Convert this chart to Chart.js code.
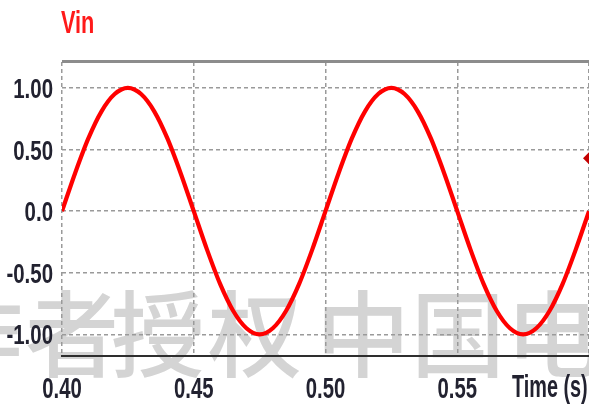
<!DOCTYPE html>
<html>
<head>
<meta charset="utf-8">
<title>Vin</title>
<script src="https://cdn.jsdelivr.net/npm/chart.js@4/dist/chart.umd.min.js"></script>
<style>
  html, body { margin: 0; padding: 0; background: #ffffff; overflow: hidden; }
  canvas { display: block; }
</style>
</head>
<body>
<canvas id="chart" width="589" height="405"></canvas>
<script>
// Sampled input voltage, every 5 ms
const timeS = [
  0.400, 0.405, 0.410, 0.415, 0.420, 0.425, 0.430, 0.435, 0.440, 0.445,
  0.450, 0.455, 0.460, 0.465, 0.470, 0.475, 0.480, 0.485, 0.490, 0.495,
  0.500, 0.505, 0.510, 0.515, 0.520, 0.525, 0.530, 0.535, 0.540, 0.545,
  0.550, 0.555, 0.560, 0.565, 0.570, 0.575, 0.580, 0.585, 0.590, 0.595,
  0.600
];
const vinValues = [
  0.00, 0.31, 0.59, 0.81, 0.95, 1.00, 0.95, 0.81, 0.59, 0.31,
  0.00, -0.31, -0.59, -0.81, -0.95, -1.00, -0.95, -0.81, -0.59, -0.31,
  0.00, 0.31, 0.59, 0.81, 0.95, 1.00, 0.95, 0.81, 0.59, 0.31,
  0.00, -0.31, -0.59, -0.81, -0.95, -1.00, -0.95, -0.81, -0.59, -0.31,
  0.00
];

// Cursor marker on the right edge
const markerTime = [0.600];
const markerValue = [0.43];

// Axis ticks and their labels
const xTicks = [0.40, 0.45, 0.50, 0.55, 0.60];
const xTickLabels = ['0.40', '0.45', '0.50', '0.55', ''];
const xAxisTitle = 'Time (s)';
const yTicks = [-1.0, -0.5, 0.0, 0.5, 1.0];
const yTickLabels = ['-1.00', '-0.50', '0.0', '0.50', '1.00'];
const seriesName = 'Vin';
const watermarkChars = ['作', '者', '授', '权', '中', '国', '电'];

const LABEL_FONT = '"Liberation Sans", Arial, sans-serif';

// condensed bold text helper
function condensedText(ctx, str, x, y, size, sx, align, color) {
  ctx.save();
  ctx.translate(x, y);
  ctx.scale(sx, 1);
  ctx.font = 'bold ' + size + 'px ' + LABEL_FONT;
  ctx.textAlign = align;
  ctx.textBaseline = 'alphabetic';
  ctx.fillStyle = color;
  ctx.fillText(str, 0, 0);
  ctx.restore();
}

const decorations = {
  id: 'decorations',
  beforeDraw(chart) {
    const ctx = chart.ctx;
    ctx.save();
    ctx.font = '500 94px "Noto Sans CJK SC", sans-serif';
    ctx.fillStyle = '#d4d4d4';
    ctx.textAlign = 'center';
    ctx.textBaseline = 'alphabetic';
    const centers = [-24, 72, 158, 255, 363, 458, 553];
    watermarkChars.forEach((ch, i) => ctx.fillText(ch, centers[i], 370));
    ctx.restore();
  },
  afterDraw(chart) {
    const ctx = chart.ctx;
    const area = chart.chartArea;
    const xs = chart.scales.x;
    const ys = chart.scales.y;

    // top frame line
    ctx.save();
    ctx.strokeStyle = '#8c8c8c';
    ctx.lineWidth = 3;
    ctx.beginPath();
    ctx.moveTo(area.left, area.top - 0.5);
    ctx.lineTo(area.right, area.top - 0.5);
    ctx.stroke();
    ctx.restore();

    // y tick labels
    ys.ticks.forEach((t) => {
      const idx = yTicks.indexOf(t.value);
      const label = idx >= 0 ? yTickLabels[idx] : '';
      condensedText(ctx, label, area.left - 9, ys.getPixelForValue(t.value) + 10, 28, 0.73, 'right', '#222230');
    });

    // x tick labels
    xs.ticks.forEach((t) => {
      const idx = xTicks.indexOf(t.value);
      const label = idx >= 0 ? xTickLabels[idx] : '';
      if (label) {
        condensedText(ctx, label, xs.getPixelForValue(t.value), 398, 29, 0.70, 'center', '#222230');
      }
    });

    // axis title in place of the last tick label
    condensedText(ctx, xAxisTitle, 512, 397, 32, 0.62, 'left', '#222230');

    // series name
    condensedText(ctx, seriesName, area.left - 1, 33, 31, 0.70, 'left', '#ff1a1a');
  }
};

new Chart(document.getElementById('chart'), {
  type: 'line',
  data: {
    datasets: [
      {
        label: seriesName,
        data: timeS.map((t, i) => ({ x: t, y: vinValues[i] })),
        borderColor: '#ff0000',
        borderWidth: 4.2,
        pointRadius: 0,
        cubicInterpolationMode: 'monotone',
        fill: false
      },
      {
        label: 'marker',
        data: markerTime.map((t, i) => ({ x: t, y: markerValue[i] })),
        showLine: false,
        pointStyle: 'rectRot',
        pointRadius: 6,
        pointBackgroundColor: '#c40000',
        pointBorderColor: '#c40000',
        pointBorderWidth: 0,
        clip: false
      }
    ]
  },
  options: {
    responsive: false,
    devicePixelRatio: 1,
    animation: false,
    layout: { autoPadding: false, padding: { top: 62, right: 0, left: 0, bottom: 0 } },
    plugins: {
      legend: { display: false },
      tooltip: { enabled: false },
      title: { display: false }
    },
    scales: {
      x: {
        type: 'linear',
        min: 0.40,
        max: 0.60,
        afterBuildTicks: (scale) => { scale.ticks = xTicks.map(v => ({ value: v })); },
        afterFit: (scale) => { scale.height = 49; },
        ticks: { display: false },
        grid: { color: '#9a9a9a', lineWidth: 1.5, drawTicks: false, tickLength: 0 },
        border: { display: true, color: '#2e2e2e', width: 2, dash: [4, 3] }
      },
      y: {
        type: 'linear',
        min: -1.175,
        max: 1.21,
        afterBuildTicks: (scale) => { scale.ticks = yTicks.map(v => ({ value: v })); },
        afterFit: (scale) => { scale.width = 62; },
        ticks: { display: false },
        grid: { color: '#9a9a9a', lineWidth: 1.5, drawTicks: false, tickLength: 0 },
        border: { display: false, dash: [4, 3] }
      }
    }
  },
  plugins: [decorations]
});
</script>
</body>
</html>
